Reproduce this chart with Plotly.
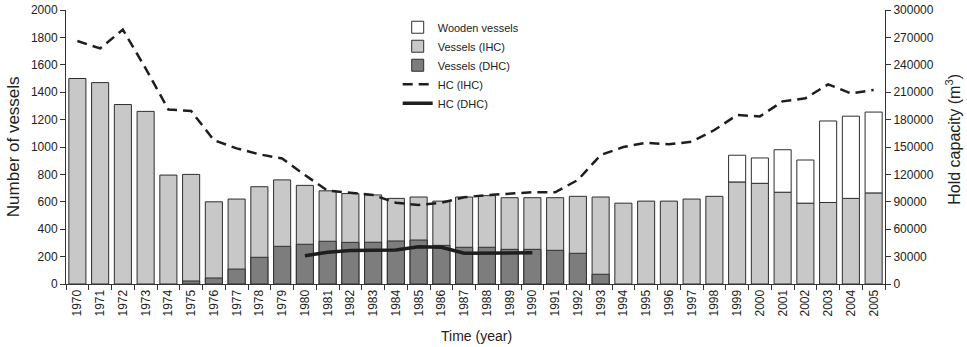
import plotly.graph_objects as go

years = [str(y) for y in range(1970, 2006)]

# Total IHC-type vessels (light grey bar height from zero)
vessels_ihc = [1500, 1470, 1310, 1260, 795, 800, 600, 620, 710, 760,
               720, 680, 660, 650, 625, 635, 605, 635, 645, 630,
               630, 630, 640, 635, 590, 605, 605, 620, 640, 745,
               735, 670, 590, 595, 625, 665]
# DHC vessels (dark grey, drawn from zero)
vessels_dhc = [None, None, None, None, None, 22, 44, 109, 195, 275,
               290, 312, 304, 305, 314, 321, 282, 268, 268, 253,
               253, 246, 224, 71, None, None, None, None, None, None,
               None, None, None, None, None, None]
# Wooden vessels (white, stacked on top of IHC)
vessels_wooden = [None] * 29 + [195, 185, 310, 315, 595, 600, 590]

# Hold capacity (m3)
hc_ihc = [266000, 258000, 278500, 236000, 191000, 189500, 157500, 148500, 142000, 137500,
          119300, 102200, 100000, 97400, 89000, 86500, 89000, 94900, 97400, 98500,
          100400, 100400, 113900, 141200, 150000, 154700, 152900, 155800, 168600, 185000,
          183500, 200000, 203300, 218600, 208800, 212400]
hc_dhc = [None] * 10 + [31000, 34700, 36600, 37200, 37200, 40800, 40200, 33600, 33600, 33600,
                        34300] + [None] * 15

FONT = "Liberation Sans, Arial, sans-serif"
OUTLINE = dict(color="#2e2e2e", width=1)

fig = go.Figure()

fig.add_trace(go.Bar(x=years, y=vessels_ihc, name="Vessels (IHC)",
                     marker=dict(color="#c8c8c8", line=OUTLINE),
                     opacity=1, legendrank=2))
fig.add_trace(go.Bar(x=years, y=vessels_dhc, name="Vessels (DHC)",
                     marker=dict(color="#7d7d7d", line=OUTLINE),
                     opacity=1, legendrank=3))
fig.add_trace(go.Bar(x=years, y=vessels_wooden, base=vessels_ihc, name="Wooden vessels",
                     marker=dict(color="#ffffff", line=OUTLINE),
                     opacity=1, legendrank=1))
fig.add_trace(go.Scatter(x=years, y=hc_ihc, name="HC (IHC)", yaxis="y2", mode="lines",
                         line=dict(color="#1e1e1e", width=2.5, dash="10px,6px"),
                         legendrank=4))
fig.add_trace(go.Scatter(x=years, y=hc_dhc, name="HC (DHC)", yaxis="y2", mode="lines",
                         line=dict(color="#1e1e1e", width=3.5), connectgaps=False,
                         legendrank=5))

fig.update_layout(
    width=967, height=347,
    margin=dict(l=66, r=82, t=10, b=63, autoexpand=False),
    plot_bgcolor="white", paper_bgcolor="white",
    barmode="overlay", bargap=0.25,
    font=dict(family=FONT, size=12, color="#222"),
    showlegend=True,
    legend=dict(x=0.405, y=0.99, xanchor="left", yanchor="top",
                bgcolor="rgba(0,0,0,0)", font=dict(size=11, color="#222"),
                tracegroupgap=0, itemwidth=30),
    xaxis=dict(type="category", tickangle=-90, showline=True, linecolor="#333",
               linewidth=1, ticks="outside", ticklen=5, tickcolor="#333",
               tickson="boundaries", showgrid=False, automargin=False,
               tickfont=dict(size=12)),
    yaxis=dict(range=[0, 2000], dtick=200, showline=True, linecolor="#333",
               linewidth=1, ticks="outside", ticklen=5, tickcolor="#333",
               showgrid=False, zeroline=False, automargin=False,
               ticklabeloverflow="allow"),
    yaxis2=dict(range=[0, 300000], dtick=30000, overlaying="y", side="right",
                showline=True, linecolor="#333", linewidth=1, ticks="outside",
                ticklen=5, tickcolor="#333", showgrid=False, zeroline=False,
                tickformat="d", automargin=False, ticklabeloverflow="allow"),
    annotations=[
        dict(text="Time (year)", xref="paper", yref="paper", x=0.5015, y=-0.19,
             xanchor="center", yanchor="middle", showarrow=False,
             font=dict(size=14, color="#222")),
        dict(text="Number of vessels", xref="paper", yref="paper", x=-0.0645, y=0.5,
             xanchor="center", yanchor="middle", textangle=-90, showarrow=False,
             font=dict(size=17, color="#222")),
        dict(text="Hold capacity (m<sup>3</sup>)", xref="paper", yref="paper",
             x=1.083, y=0.53, xanchor="center", yanchor="middle", textangle=-90,
             showarrow=False, font=dict(size=16, color="#222")),
    ],
)

# Remove the default 8px page margin so the figure fills the window exactly.
fig.write_html("out.html", config={"displayModeBar": False},
               post_script="document.body.style.margin='0';")
